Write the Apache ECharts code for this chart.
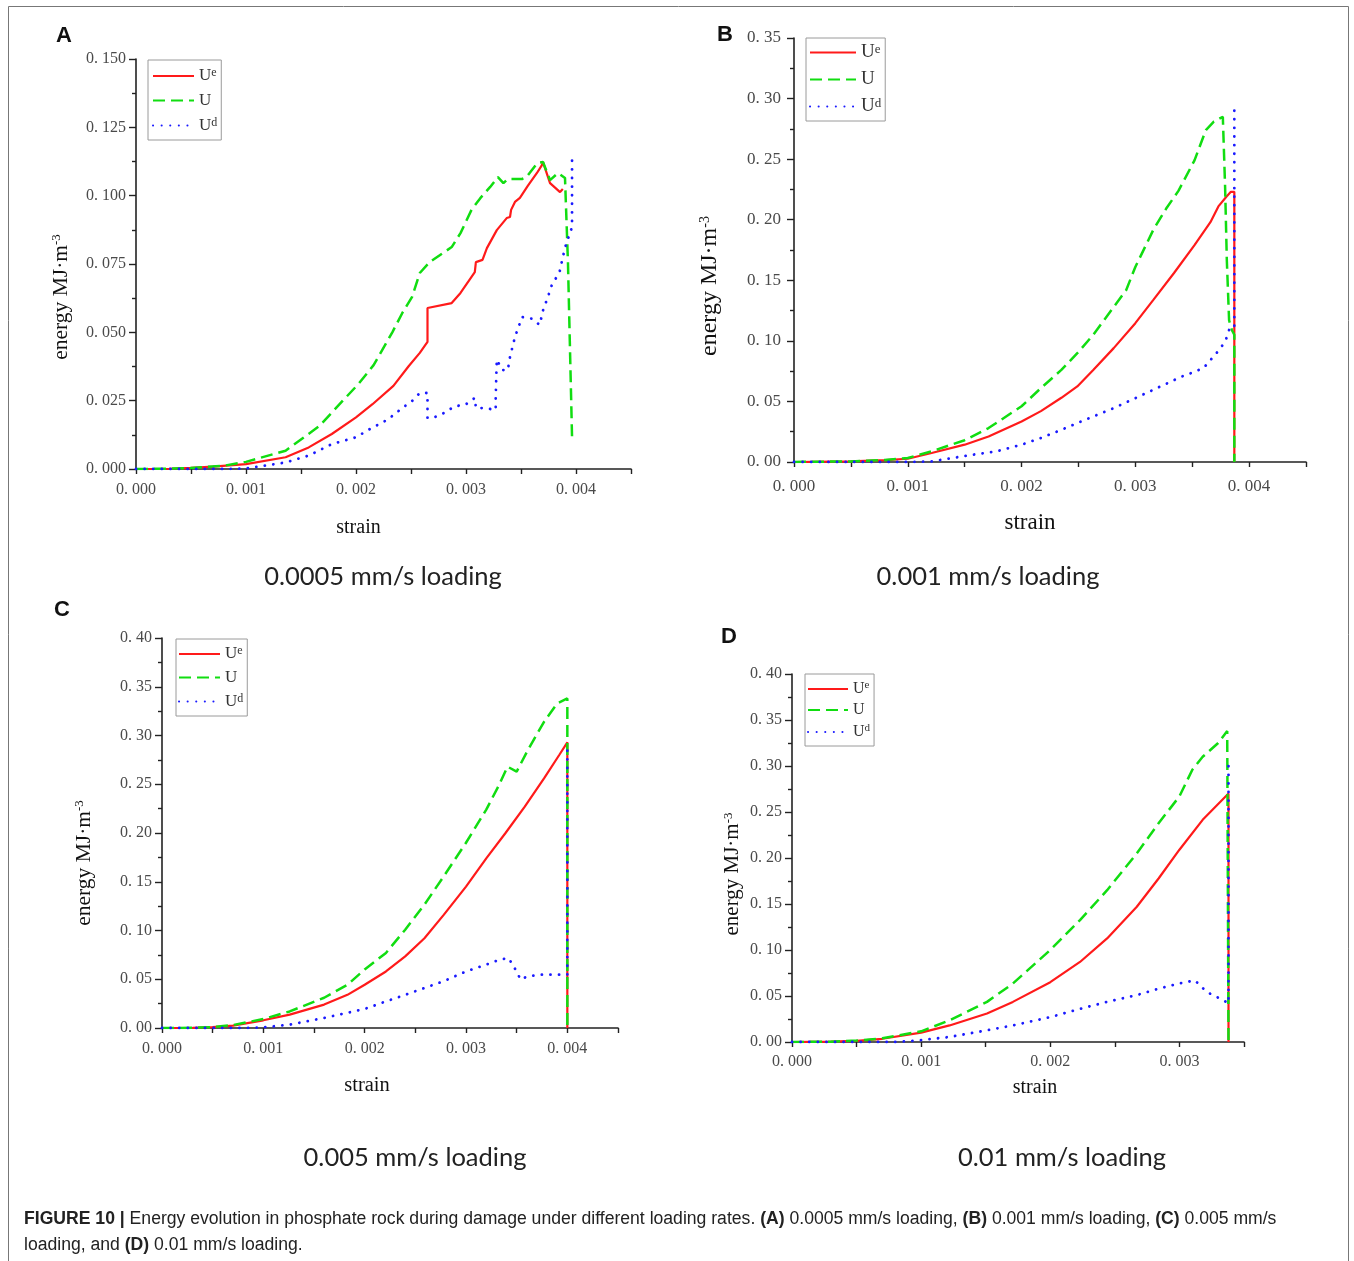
<!DOCTYPE html>
<html><head><meta charset="utf-8">
<script src="https://cdn.jsdelivr.net/npm/echarts@6/dist/echarts.min.js"></script>
<style>html,body{margin:0;padding:0;background:#fff;}#c{width:1354px;height:1261px;}</style>
</head><body><div id="c"></div>
<script>
// ---------------- text ----------------
const seriesNames = ['Ue', 'U', 'Ud'];
const panelLetters = ['A', 'B', 'C', 'D'];
const panelSubtitles = ['0.0005 mm/s loading', '0.001 mm/s loading', '0.005 mm/s loading', '0.01 mm/s loading'];
const captionLine1 = '{b|FIGURE 10 |} Energy evolution in phosphate rock during damage under different loading rates. {b|(A)} 0.0005 mm/s loading, {b|(B)} 0.001 mm/s loading, {b|(C)} 0.005 mm/s';
const captionLine2 = 'loading, and {b|(D)} 0.01 mm/s loading.';
const xAxisName = 'strain';
const yAxisName = 'energy MJ·m{s|-3}';

// ---------------- panel A : 0.0005 mm/s ----------------
const aUeX = [0, 0.0003, 0.0005, 0.0007, 0.001, 0.00136, 0.00157, 0.00178, 0.002, 0.00215, 0.00234, 0.00248, 0.00258, 0.00265, 0.00265, 0.00287, 0.00295, 0.00308, 0.00309, 0.00315, 0.00319, 0.00328, 0.00337, 0.0034, 0.00341, 0.003445, 0.00349, 0.00356, 0.003645, 0.00369, 0.0037, 0.003764, 0.003855, 0.00388];
const aUeY = [0, 0.0001, 0.0004, 0.0009, 0.0018, 0.0043, 0.0079, 0.0128, 0.0189, 0.0237, 0.0304, 0.0377, 0.0425, 0.0465, 0.0589, 0.0607, 0.0644, 0.072, 0.0757, 0.0765, 0.0808, 0.0874, 0.0918, 0.0922, 0.0948, 0.0977, 0.0992, 0.1035, 0.1083, 0.1112, 0.1123, 0.1046, 0.1013, 0.1024];
const aUX = [0, 0.0003, 0.0005, 0.0008, 0.001, 0.00136, 0.00167, 0.00188, 0.00202, 0.00216, 0.00233, 0.00242, 0.00251, 0.00258, 0.00267, 0.00287, 0.00295, 0.00305, 0.00313, 0.00322, 0.00329, 0.00334, 0.00338, 0.00351, 0.00355, 0.00365, 0.0037, 0.003764, 0.003836, 0.0039, 0.003927, 0.003964];
const aUY = [0, 0.0001, 0.0004, 0.0012, 0.0026, 0.0067, 0.0158, 0.025, 0.031, 0.038, 0.050, 0.057, 0.063, 0.0717, 0.0757, 0.0812, 0.0863, 0.0948, 0.0991, 0.1032, 0.1068, 0.1046, 0.1061, 0.1061, 0.1068, 0.112, 0.1123, 0.1057, 0.1083, 0.1065, 0.0754, 0.0117];
const aUdX = [0, 0.0008, 0.001, 0.00136, 0.00157, 0.00178, 0.002, 0.00215, 0.00225, 0.00233, 0.00242, 0.00251, 0.00258, 0.00265, 0.00265, 0.0027, 0.0028, 0.0029, 0.00299, 0.00308, 0.00309, 0.00317, 0.00327, 0.00327, 0.00328, 0.00333, 0.00338, 0.0034, 0.003445, 0.00351, 0.0036, 0.00367, 0.0037, 0.003745, 0.00378, 0.00385, 0.0039, 0.003964, 0.003964];
const aUdY = [0, 0, 0.0002, 0.0024, 0.0049, 0.0091, 0.0116, 0.0152, 0.0172, 0.0194, 0.0223, 0.0249, 0.0278, 0.0278, 0.0187, 0.0187, 0.0205, 0.023, 0.0234, 0.026, 0.0223, 0.0223, 0.0216, 0.0263, 0.040, 0.0362, 0.0362, 0.041, 0.0483, 0.0556, 0.055, 0.0527, 0.058, 0.063, 0.0673, 0.072, 0.081, 0.0885, 0.1156];

// ---------------- panel B : 0.001 mm/s ----------------
const bUeX = [0, 0.0005, 0.0008, 0.001, 0.00121, 0.0015, 0.00171, 0.002, 0.00217, 0.00235, 0.00249, 0.00263, 0.00281, 0.003, 0.00316, 0.00334, 0.00352, 0.00366, 0.00373, 0.0038, 0.00384, 0.00387, 0.00387];
const bUeY = [0, 0.0005, 0.0015, 0.0027, 0.0074, 0.0143, 0.021, 0.0335, 0.042, 0.053, 0.0624, 0.076, 0.094, 0.1146, 0.134, 0.156, 0.179, 0.198, 0.211, 0.219, 0.223, 0.223, 0];
const bUX = [0, 0.0005, 0.0008, 0.001, 0.00121, 0.0015, 0.00171, 0.002, 0.00217, 0.00235, 0.00249, 0.00263, 0.00281, 0.00292, 0.003, 0.00316, 0.00327, 0.00338, 0.00352, 0.00362, 0.00369, 0.003769, 0.003789, 0.003804, 0.003824, 0.003848, 0.00387, 0.00387];
const bUY = [0, 0.0005, 0.0017, 0.0033, 0.0088, 0.018, 0.028, 0.046, 0.061, 0.076, 0.0898, 0.105, 0.128, 0.142, 0.161, 0.192, 0.209, 0.224, 0.249, 0.274, 0.281, 0.285, 0.227, 0.167, 0.117, 0.109, 0.105, 0];
const bUdX = [0, 0.001, 0.00121, 0.00157, 0.00178, 0.002, 0.00217, 0.00235, 0.00263, 0.00281, 0.003, 0.00319, 0.00341, 0.0035, 0.0036, 0.003675, 0.003751, 0.0038, 0.003824, 0.00387, 0.00387];
const bUdY = [0, 0, 0.0005, 0.006, 0.0088, 0.0143, 0.0198, 0.0266, 0.0376, 0.0445, 0.0527, 0.061, 0.0706, 0.0737, 0.0776, 0.0858, 0.094, 0.102, 0.109, 0.11, 0.2945];

// ---------------- panel C : 0.005 mm/s ----------------
const cUeX = [0, 0.0003, 0.0005, 0.0007, 0.001, 0.00126, 0.0016, 0.00183, 0.002, 0.00221, 0.0024, 0.00259, 0.00278, 0.003, 0.0032, 0.00339, 0.00358, 0.00377, 0.00392, 0.004, 0.004];
const cUeY = [0, 0.0002, 0.0008, 0.0025, 0.0079, 0.0137, 0.024, 0.034, 0.0444, 0.058, 0.0735, 0.092, 0.116, 0.145, 0.174, 0.20, 0.227, 0.256, 0.280, 0.293, 0];
const cUX = [0, 0.0003, 0.0005, 0.0007, 0.001, 0.00126, 0.0016, 0.00183, 0.002, 0.00221, 0.0024, 0.00259, 0.00278, 0.003, 0.0032, 0.00332, 0.00341, 0.0035, 0.00361, 0.00377, 0.0039, 0.004, 0.004];
const cUY = [0, 0.0002, 0.0009, 0.003, 0.0092, 0.017, 0.031, 0.0444, 0.060, 0.077, 0.1008, 0.1265, 0.1555, 0.19, 0.224, 0.248, 0.268, 0.263, 0.285, 0.314, 0.333, 0.338, 0];
const cUdX = [0, 0.0008, 0.001, 0.00126, 0.0016, 0.002, 0.00221, 0.0024, 0.00259, 0.00278, 0.003, 0.0032, 0.00333, 0.00342, 0.00348, 0.00354, 0.0036, 0.00373, 0.004, 0.004];
const cUdY = [0, 0, 0.0007, 0.0034, 0.0103, 0.0195, 0.0273, 0.034, 0.041, 0.048, 0.058, 0.065, 0.070, 0.0718, 0.0615, 0.0495, 0.0527, 0.0547, 0.0547, 0.29];

// ---------------- panel D : 0.01 mm/s ----------------
const dUeX = [0, 0.0003, 0.0005, 0.0007, 0.001, 0.00122, 0.00151, 0.00171, 0.002, 0.00223, 0.00244, 0.00267, 0.00284, 0.003, 0.00318, 0.00338, 0.00338];
const dUeY = [0, 0.0003, 0.0013, 0.0035, 0.0102, 0.018, 0.031, 0.0436, 0.065, 0.087, 0.1126, 0.147, 0.178, 0.209, 0.2415, 0.270, 0];
const dUX = [0, 0.0003, 0.0005, 0.0007, 0.001, 0.00122, 0.00151, 0.00171, 0.002, 0.00223, 0.00244, 0.00267, 0.00284, 0.003, 0.0031, 0.00318, 0.0033, 0.00337, 0.00338, 0.00338];
const dUY = [0, 0.0003, 0.0015, 0.004, 0.0116, 0.0236, 0.0436, 0.0635, 0.10, 0.1325, 0.165, 0.205, 0.238, 0.267, 0.296, 0.31, 0.325, 0.338, 0.338, 0];
const dUdX = [0, 0.0008, 0.001, 0.00122, 0.00151, 0.00171, 0.002, 0.00223, 0.00244, 0.00267, 0.00284, 0.003, 0.00312, 0.00321, 0.00334, 0.00338, 0.00338];
const dUdY = [0, 0, 0.002, 0.0055, 0.0127, 0.018, 0.027, 0.036, 0.0436, 0.051, 0.058, 0.0636, 0.067, 0.0545, 0.0454, 0.042, 0.30];

// axis ranges per panel
const xMax = [0.0045, 0.0045, 0.0045, 0.0035];
const yMax = [0.150, 0.35, 0.40, 0.40];
const yStep = [0.025, 0.05, 0.05, 0.05];
const yDecimals = [3, 2, 2, 2];

// ---------------- build ----------------
const zip = (xs, ys) => xs.map((x, i) => [x, ys[i]]);
const panelData = [
  [zip(aUeX, aUeY), zip(aUX, aUY), zip(aUdX, aUdY)],
  [zip(bUeX, bUeY), zip(bUX, bUY), zip(bUdX, bUdY)],
  [zip(cUeX, cUeY), zip(cUX, cUY), zip(cUdX, cUdY)],
  [zip(dUeX, dUeY), zip(dUX, dUY), zip(dUdX, dUdY)]
];

const layout = [
  {grid: {left: 136, top: 59, width: 495, height: 410}, lab: 16, yMargin: 10, xMargin: 13,
   nameSize: 20, yNameSize: 21.5, yGap: 64, yShift: 33, xGap: 49, xShift: -25,
   legend: {left: 148, top: 60, iw: 41, fs: 17, sp: 25.5, pad: [7, 4, 6, 4], tg: 10},
   letter: [64, 36], sub: [383, 577]},
  {grid: {left: 794, top: 38, width: 512, height: 424}, lab: 17, yMargin: 13, xMargin: 16,
   nameSize: 23, yNameSize: 24, yGap: 72, yShift: 36, xGap: 49, xShift: -20,
   legend: {left: 806, top: 38, iw: 46, fs: 19, sp: 26, pad: [5, 4, 5, 3], tg: 9},
   letter: [725, 35], sub: [988, 577]},
  {grid: {left: 162, top: 638, width: 456, height: 390}, lab: 16, yMargin: 10, xMargin: 13,
   nameSize: 20.5, yNameSize: 21.5, yGap: 67, yShift: 30, xGap: 47, xShift: -23,
   legend: {left: 176, top: 639, iw: 41, fs: 17, sp: 24.5, pad: [6, 4, 6, 2], tg: 8},
   letter: [62, 610], sub: [415, 1158]},
  {grid: {left: 792, top: 674, width: 452, height: 368}, lab: 16, yMargin: 10, xMargin: 12,
   nameSize: 20, yNameSize: 21, yGap: 49, yShift: 16, xGap: 36, xShift: 17,
   legend: {left: 805, top: 674, iw: 40, fs: 16, sp: 23, pad: [6, 4, 6, 2], tg: 7},
   letter: [729, 637], sub: [1062, 1158]}
];

const serif = '"Liberation Serif", "DejaVu Serif", serif';
const lineStyles = [
  {color: '#ff1a1a', width: 2.2, type: 'solid'},
  {color: '#11dd11', width: 2.5, type: [12, 6]},
  {color: '#1a1aff', width: 2.8, type: [0.1, 8.5], cap: 'round'}
];
const fmt = (v, d) => v.toFixed(d).replace('.', '. ');

const option = {
  animation: false,
  backgroundColor: '#fff',
  grid: [], xAxis: [], yAxis: [], series: [], legend: [], graphic: []
};

layout.forEach((L, p) => {
  option.grid.push(Object.assign({containLabel: false}, L.grid));
  const xPad = L.xShift < 0 ? [0, -2 * L.xShift, 0, 0] : [0, 0, 0, 2 * L.xShift];
  option.xAxis.push({
    type: 'value', gridIndex: p, min: 0, max: xMax[p], interval: 0.0005,
    name: xAxisName, nameLocation: 'middle', nameGap: L.xGap,
    nameTextStyle: {fontFamily: serif, fontSize: L.nameSize, color: '#111', padding: xPad},
    axisLine: {show: true, onZero: false, lineStyle: {color: '#222', width: 1.6}},
    axisTick: {show: true, inside: false, length: 5, lineStyle: {color: '#222', width: 1.4}},
    axisLabel: {
      margin: L.xMargin, fontFamily: serif, fontSize: L.lab, color: '#4a4a4a',
      formatter: v => {
        const k = Math.round(v / 0.0005);
        if (k % 2 !== 0) return '';
        return fmt(v, 3);
      }
    },
    splitLine: {show: false}
  });
  option.yAxis.push({
    type: 'value', gridIndex: p, min: 0, max: yMax[p], interval: yStep[p],
    name: yAxisName, nameLocation: 'middle', nameRotate: 90, nameGap: L.yGap,
    nameTextStyle: {
      fontFamily: serif, fontSize: L.yNameSize, color: '#111', padding: [0, 2 * L.yShift, 0, 0],
      rich: {s: {fontFamily: serif, fontSize: Math.round(L.yNameSize * 0.6), verticalAlign: 'top', color: '#111'}}
    },
    axisLine: {show: true, onZero: false, lineStyle: {color: '#222', width: 1.6}},
    axisTick: {show: true, inside: false, length: 7, lineStyle: {color: '#222', width: 1.4}},
    minorTick: {show: true, splitNumber: 2, length: 4, lineStyle: {color: '#222', width: 1.4}},
    axisLabel: {margin: L.yMargin, fontFamily: serif, fontSize: L.lab, color: '#4a4a4a',
      formatter: v => fmt(v, yDecimals[p])},
    splitLine: {show: false}, minorSplitLine: {show: false}
  });
  seriesNames.forEach((n, s) => {
    option.series.push({
      type: 'line', name: n, xAxisIndex: p, yAxisIndex: p,
      data: panelData[p][s], symbol: 'none', showSymbol: false,
      lineStyle: lineStyles[s], itemStyle: {color: lineStyles[s].color},
      z: 2 + s, silent: true
    });
  });
  const G = L.legend;
  const lh = 18;
  option.legend.push({
    orient: 'vertical', left: G.left, top: G.top, padding: G.pad,
    itemWidth: G.iw, itemHeight: 14, itemGap: G.sp - lh, textGap: G.tg,
    backgroundColor: '#fff', borderColor: '#9a9a9a', borderWidth: 1, borderRadius: 0,
    selectedMode: false, data: seriesNames,
    itemStyle: {opacity: 0, borderWidth: 0},
    formatter: name => name === 'Ue' ? '{u|U}{s|e}' : name === 'Ud' ? '{u|U}{s|d}' : '{u|U}',
    textStyle: {
      rich: {
        u: {fontFamily: serif, fontSize: G.fs, color: '#333', lineHeight: lh},
        s: {fontFamily: serif, fontSize: Math.round(G.fs * 0.7), color: '#333', verticalAlign: 'top', lineHeight: lh}
      }
    }
  });
  option.graphic.push({
    type: 'text', x: L.letter[0], y: L.letter[1], silent: true,
    style: {text: panelLetters[p], font: 'bold 22px "Liberation Sans", Arial, sans-serif', fill: '#111', align: 'center', verticalAlign: 'middle'}
  });
  option.graphic.push({
    type: 'text', x: L.sub[0], y: L.sub[1], silent: true,
    style: {text: panelSubtitles[p], font: '25.5px Lato, "Open Sans", sans-serif', fill: '#222', align: 'center', verticalAlign: 'middle'}
  });
});

option.graphic.push({
  type: 'rect', silent: true, z: -1,
  shape: {x: 8.5, y: 6.5, width: 1340, height: 1300},
  style: {fill: 'none', stroke: '#777', lineWidth: 1}
});
const capFont = '"Liberation Sans", Arial, sans-serif';
const capRich = {b: {fontFamily: capFont, fontWeight: 'bold', fontSize: 17.6, fill: '#222'}};
option.graphic.push({
  type: 'text', x: 24, y: 1219, silent: true,
  style: {text: captionLine1, fontFamily: capFont, fontSize: 17.6, fill: '#222', align: 'left', verticalAlign: 'middle', rich: capRich}
});
option.graphic.push({
  type: 'text', x: 24, y: 1245, silent: true,
  style: {text: captionLine2, fontFamily: capFont, fontSize: 17.6, fill: '#222', align: 'left', verticalAlign: 'middle', rich: capRich}
});

const chart = echarts.init(document.getElementById('c'), null, {renderer: 'canvas'});
chart.setOption(option);
</script>
</body></html>
